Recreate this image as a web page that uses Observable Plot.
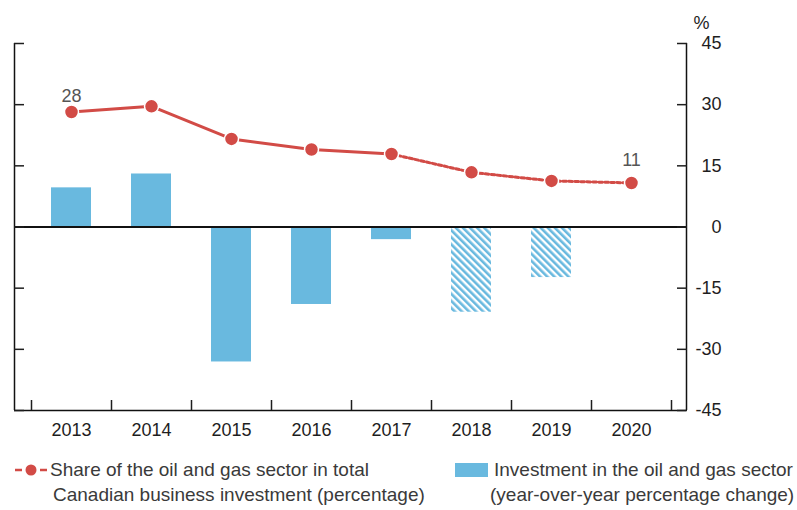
<!DOCTYPE html>
<html><head><meta charset="utf-8">
<script src="https://cdn.jsdelivr.net/npm/d3@7"></script>
<script src="https://cdn.jsdelivr.net/npm/@observablehq/plot@0.6"></script>
<style>
body{margin:0;background:#fff;}
#wrap{position:relative;width:797px;height:510px;font-family:"Liberation Sans",Arial,sans-serif;overflow:hidden;}
.leg{position:absolute;font-size:19px;color:#3a3a3a;line-height:22px;white-space:nowrap;}
</style></head><body><div id="wrap"></div>
<script>
// ---- data ----
const years = [2013, 2014, 2015, 2016, 2017, 2018, 2019, 2020];
const shareOfInvestment = [28.2, 29.6, 21.6, 19.0, 17.9, 13.4, 11.3, 10.8];
const investmentChange = [9.6, 13.0, -33.1, -19.0, -3.1, -20.9, -12.4, -0.2];
const projected = [false, false, false, false, false, true, true, true];
const yTicks = [-45, -30, -15, 0, 15, 30, 45];
const unitLabel = "%";
const legendShare = ["Share of the oil and gas sector in total", "Canadian business investment (percentage)"];
const legendInvest = ["Investment in the oil and gas sector", "(year-over-year percentage change)"];

const red = "#d24b46";
const blue = "#69b9df";
const font = "'Liberation Sans', Arial, sans-serif";

const data = years.map((year, i) => ({year, share: shareOfInvestment[i], invest: investmentChange[i], projected: projected[i]}));
const lastActual = projected.indexOf(true) - 1;
const solidPart = data.slice(0, lastActual + 1);
const dottedPart = data.slice(lastActual);
const xDomain = [years[0] - 0.7125, years[years.length - 1] + 0.6875];
const boundaries = years.map(y => y - 0.5).concat([years[years.length - 1] + 0.5]);
const firstPoint = [data[0]];
const lastPoint = [data[data.length - 1]];

const svg = Plot.plot({
  width: 797,
  height: 450,
  marginLeft: 14,
  marginRight: 111,
  marginTop: 43,
  marginBottom: 40,
  style: {fontFamily: font, fontSize: "18px", color: "#1e1e1e", background: "#fff"},
  x: {domain: xDomain},
  y: {domain: [-45, 45]},
  marks: [
    Plot.rectY(data.filter(d => !d.projected), {x1: d => d.year - 0.25, x2: d => d.year + 0.25, y: "invest", fill: blue}),
    Plot.rectY(data.filter(d => d.projected), {x1: d => d.year - 0.25, x2: d => d.year + 0.25, y: "invest", fill: "url(#hatch)"}),
    Plot.ruleY([0], {stroke: "#111", strokeWidth: 2}),
    Plot.ruleY([-45], {stroke: "#111", strokeWidth: 1.5}),
    Plot.ruleX([xDomain[0], xDomain[1]], {y1: -45, y2: 45, stroke: "#111", strokeWidth: 1.5}),
    Plot.axisY(yTicks, {anchor: "right", tickSize: -10, tickFormat: () => "", label: null, strokeWidth: 1.5}),
    Plot.axisY(yTicks, {anchor: "left", tickSize: -10, tickFormat: () => "", label: null, strokeWidth: 1.5}),
    Plot.axisY(yTicks, {anchor: "right", tickSize: 0, tickPadding: 35, textAnchor: "end", tickFormat: d => String(d), label: null, fontSize: 18}),
    Plot.axisX(boundaries, {anchor: "bottom", tickSize: -10, tickFormat: () => "", label: null, strokeWidth: 1.5}),
    Plot.axisX(years, {anchor: "bottom", tickSize: 0, tickPadding: 13, tickFormat: d => String(d), label: null, fontSize: 18}),
    Plot.line(solidPart, {x: "year", y: "share", stroke: red, strokeWidth: 3}),
    Plot.line(dottedPart, {x: "year", y: "share", stroke: red, strokeWidth: 3, strokeDasharray: "3.5,2.5"}),
    Plot.dot(data, {x: "year", y: "share", r: 7, fill: red, stroke: "#fff", strokeWidth: 1.5}),
    Plot.text(firstPoint, {x: "year", y: "share", text: d => String(Math.round(d.share)), dy: -16, fill: "#555", fontSize: 18}),
    Plot.text(lastPoint, {x: "year", y: "share", text: d => String(Math.round(d.share)), dy: -23, fill: "#555", fontSize: 18}),
    Plot.text([unitLabel], {frameAnchor: "top-right", dx: 23, dy: -27, fill: "#1e1e1e", fontSize: 18})
  ]
});

const defs = d3.select(svg).insert("defs", ":first-child");
const pat = defs.append("pattern").attr("id", "hatch").attr("patternUnits", "userSpaceOnUse")
  .attr("width", 5).attr("height", 5).attr("patternTransform", "rotate(-45)");
pat.append("rect").attr("width", 5).attr("height", 5).attr("fill", "#fff");
pat.append("rect").attr("width", 2.6).attr("height", 5).attr("fill", blue);

const wrap = document.getElementById("wrap");
wrap.appendChild(svg);

// legend
const legHTML = `
<svg style="position:absolute;left:12px;top:460px" width="38" height="20">
  <line x1="3" y1="10" x2="10" y2="10" stroke="${red}" stroke-width="2.5"/>
  <circle cx="19" cy="10" r="5.5" fill="${red}"/>
  <line x1="28" y1="10" x2="35" y2="10" stroke="${red}" stroke-width="2.5"/>
</svg>
<div class="leg" style="left:50px;top:459px">${legendShare[0]}</div>
<div class="leg" style="left:53px;top:484px">${legendShare[1]}</div>
<div style="position:absolute;left:455px;top:463px;width:33px;height:14px;background:${blue}"></div>
<div class="leg" style="left:494px;top:459px">${legendInvest[0]}</div>
<div class="leg" style="left:490px;top:484px">${legendInvest[1]}</div>`;
wrap.insertAdjacentHTML("beforeend", legHTML);
</script></body></html>
